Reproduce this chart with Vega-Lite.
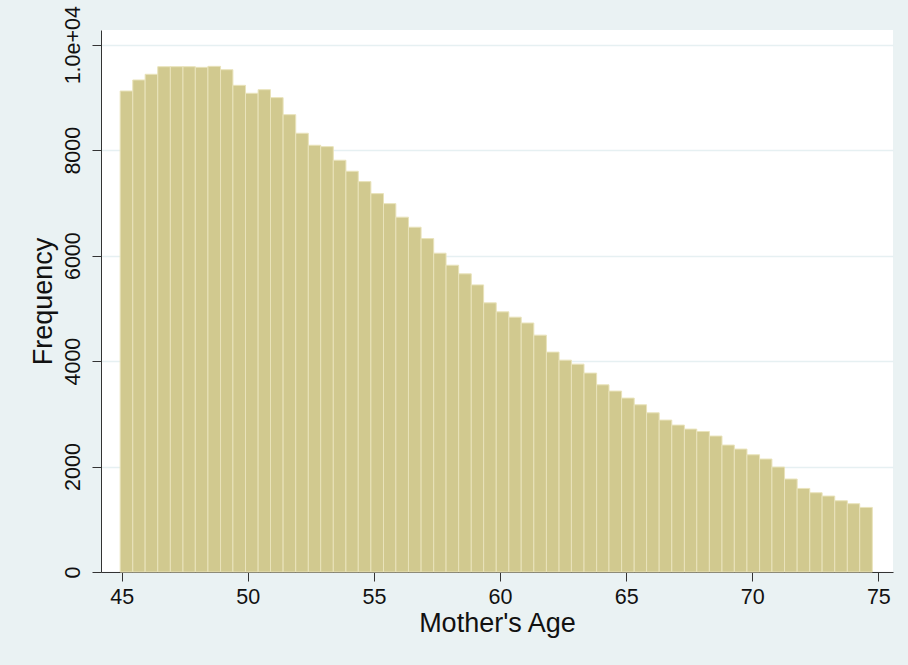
{
  "$schema": "https://vega.github.io/schema/vega-lite/v6.json",
  "width": 792,
  "height": 542,
  "autosize": {"type": "none"},
  "padding": {"left": 101, "top": 30, "right": 15, "bottom": 93},
  "background": "#eaf2f3",
  "config": {
    "view": {"fill": "white", "stroke": null},
    "font": "Liberation Sans"
  },
  "data": {
    "values": [
      {"lo": 44.94, "hi": 45.44, "freq": 9122},
      {"lo": 45.44, "hi": 45.93, "freq": 9331},
      {"lo": 45.93, "hi": 46.43, "freq": 9439},
      {"lo": 46.43, "hi": 46.93, "freq": 9583},
      {"lo": 46.93, "hi": 47.43, "freq": 9583},
      {"lo": 47.43, "hi": 47.92, "freq": 9583},
      {"lo": 47.92, "hi": 48.42, "freq": 9571},
      {"lo": 48.42, "hi": 48.92, "freq": 9590},
      {"lo": 48.92, "hi": 49.41, "freq": 9526},
      {"lo": 49.41, "hi": 49.91, "freq": 9230},
      {"lo": 49.91, "hi": 50.41, "freq": 9079},
      {"lo": 50.41, "hi": 50.9, "freq": 9147},
      {"lo": 50.9, "hi": 51.4, "freq": 8996},
      {"lo": 51.4, "hi": 51.9, "freq": 8673},
      {"lo": 51.9, "hi": 52.4, "freq": 8321},
      {"lo": 52.4, "hi": 52.89, "freq": 8093},
      {"lo": 52.89, "hi": 53.39, "freq": 8067},
      {"lo": 53.39, "hi": 53.89, "freq": 7809},
      {"lo": 53.89, "hi": 54.38, "freq": 7600},
      {"lo": 54.38, "hi": 54.88, "freq": 7404},
      {"lo": 54.88, "hi": 55.38, "freq": 7176},
      {"lo": 55.38, "hi": 55.87, "freq": 6986},
      {"lo": 55.87, "hi": 56.37, "freq": 6729},
      {"lo": 56.37, "hi": 56.87, "freq": 6539},
      {"lo": 56.87, "hi": 57.37, "freq": 6323},
      {"lo": 57.37, "hi": 57.86, "freq": 6046},
      {"lo": 57.86, "hi": 58.36, "freq": 5818},
      {"lo": 58.36, "hi": 58.86, "freq": 5654},
      {"lo": 58.86, "hi": 59.35, "freq": 5445},
      {"lo": 59.35, "hi": 59.85, "freq": 5104},
      {"lo": 59.85, "hi": 60.35, "freq": 4934},
      {"lo": 60.35, "hi": 60.84, "freq": 4833},
      {"lo": 60.84, "hi": 61.34, "freq": 4722},
      {"lo": 61.34, "hi": 61.84, "freq": 4492},
      {"lo": 61.84, "hi": 62.34, "freq": 4170},
      {"lo": 62.34, "hi": 62.83, "freq": 4018},
      {"lo": 62.83, "hi": 63.33, "freq": 3942},
      {"lo": 63.33, "hi": 63.83, "freq": 3772},
      {"lo": 63.83, "hi": 64.32, "freq": 3550},
      {"lo": 64.32, "hi": 64.82, "freq": 3431},
      {"lo": 64.82, "hi": 65.32, "freq": 3298},
      {"lo": 65.32, "hi": 65.81, "freq": 3171},
      {"lo": 65.81, "hi": 66.31, "freq": 3019},
      {"lo": 66.31, "hi": 66.81, "freq": 2881},
      {"lo": 66.81, "hi": 67.31, "freq": 2786},
      {"lo": 67.31, "hi": 67.8, "freq": 2710},
      {"lo": 67.8, "hi": 68.3, "freq": 2665},
      {"lo": 68.3, "hi": 68.8, "freq": 2578},
      {"lo": 68.8, "hi": 69.29, "freq": 2407},
      {"lo": 69.29, "hi": 69.79, "freq": 2331},
      {"lo": 69.79, "hi": 70.29, "freq": 2223},
      {"lo": 70.29, "hi": 70.78, "freq": 2142},
      {"lo": 70.78, "hi": 71.28, "freq": 1990},
      {"lo": 71.28, "hi": 71.78, "freq": 1763},
      {"lo": 71.78, "hi": 72.28, "freq": 1585},
      {"lo": 72.28, "hi": 72.77, "freq": 1503},
      {"lo": 72.77, "hi": 73.27, "freq": 1440},
      {"lo": 73.27, "hi": 73.77, "freq": 1351},
      {"lo": 73.77, "hi": 74.26, "freq": 1295},
      {"lo": 74.26, "hi": 74.76, "freq": 1225}
    ]
  },
  "mark": {"type": "rect", "fill": "#d1c98f", "stroke": "#e9e3bb", "strokeWidth": 1},
  "encoding": {
    "x": {
      "field": "lo",
      "type": "quantitative",
      "scale": {"domain": [44.18, 75.58], "nice": false, "zero": false},
      "axis": {
        "values": [45, 50, 55, 60, 65, 70, 75],
        "title": "Mother's Age",
        "titleFontSize": 27,
        "titleFontWeight": "normal",
        "titleColor": "#111",
        "titlePadding": 3,
        "labelFontSize": 21.5,
        "labelColor": "#111",
        "labelPadding": 5,
        "tickSize": 9,
        "tickColor": "#333",
        "domainColor": "#333",
        "grid": false,
        "labelFlush": false,
        "labelOverlap": false
      }
    },
    "x2": {"field": "hi"},
    "y": {
      "field": "freq",
      "type": "quantitative",
      "scale": {"domain": [0, 10279], "nice": false},
      "axis": {
        "values": [0, 2000, 4000, 6000, 8000, 10000],
        "labelExpr": "datum.value == 10000 ? '1.0e+04' : datum.value",
        "title": "Frequency",
        "titleFontSize": 27,
        "titleFontWeight": "normal",
        "titleColor": "#111",
        "titlePadding": 5,
        "labelFontSize": 21.5,
        "labelColor": "#111",
        "labelAngle": -90,
        "labelAlign": "center",
        "labelBaseline": "bottom",
        "labelPadding": 8,
        "tickSize": 9,
        "tickColor": "#333",
        "domainColor": "#333",
        "grid": true,
        "gridColor": "#e6f0f2",
        "gridWidth": 1.5,
        "labelFlush": false,
        "labelOverlap": false
      }
    },
    "y2": {"datum": 0}
  }
}
